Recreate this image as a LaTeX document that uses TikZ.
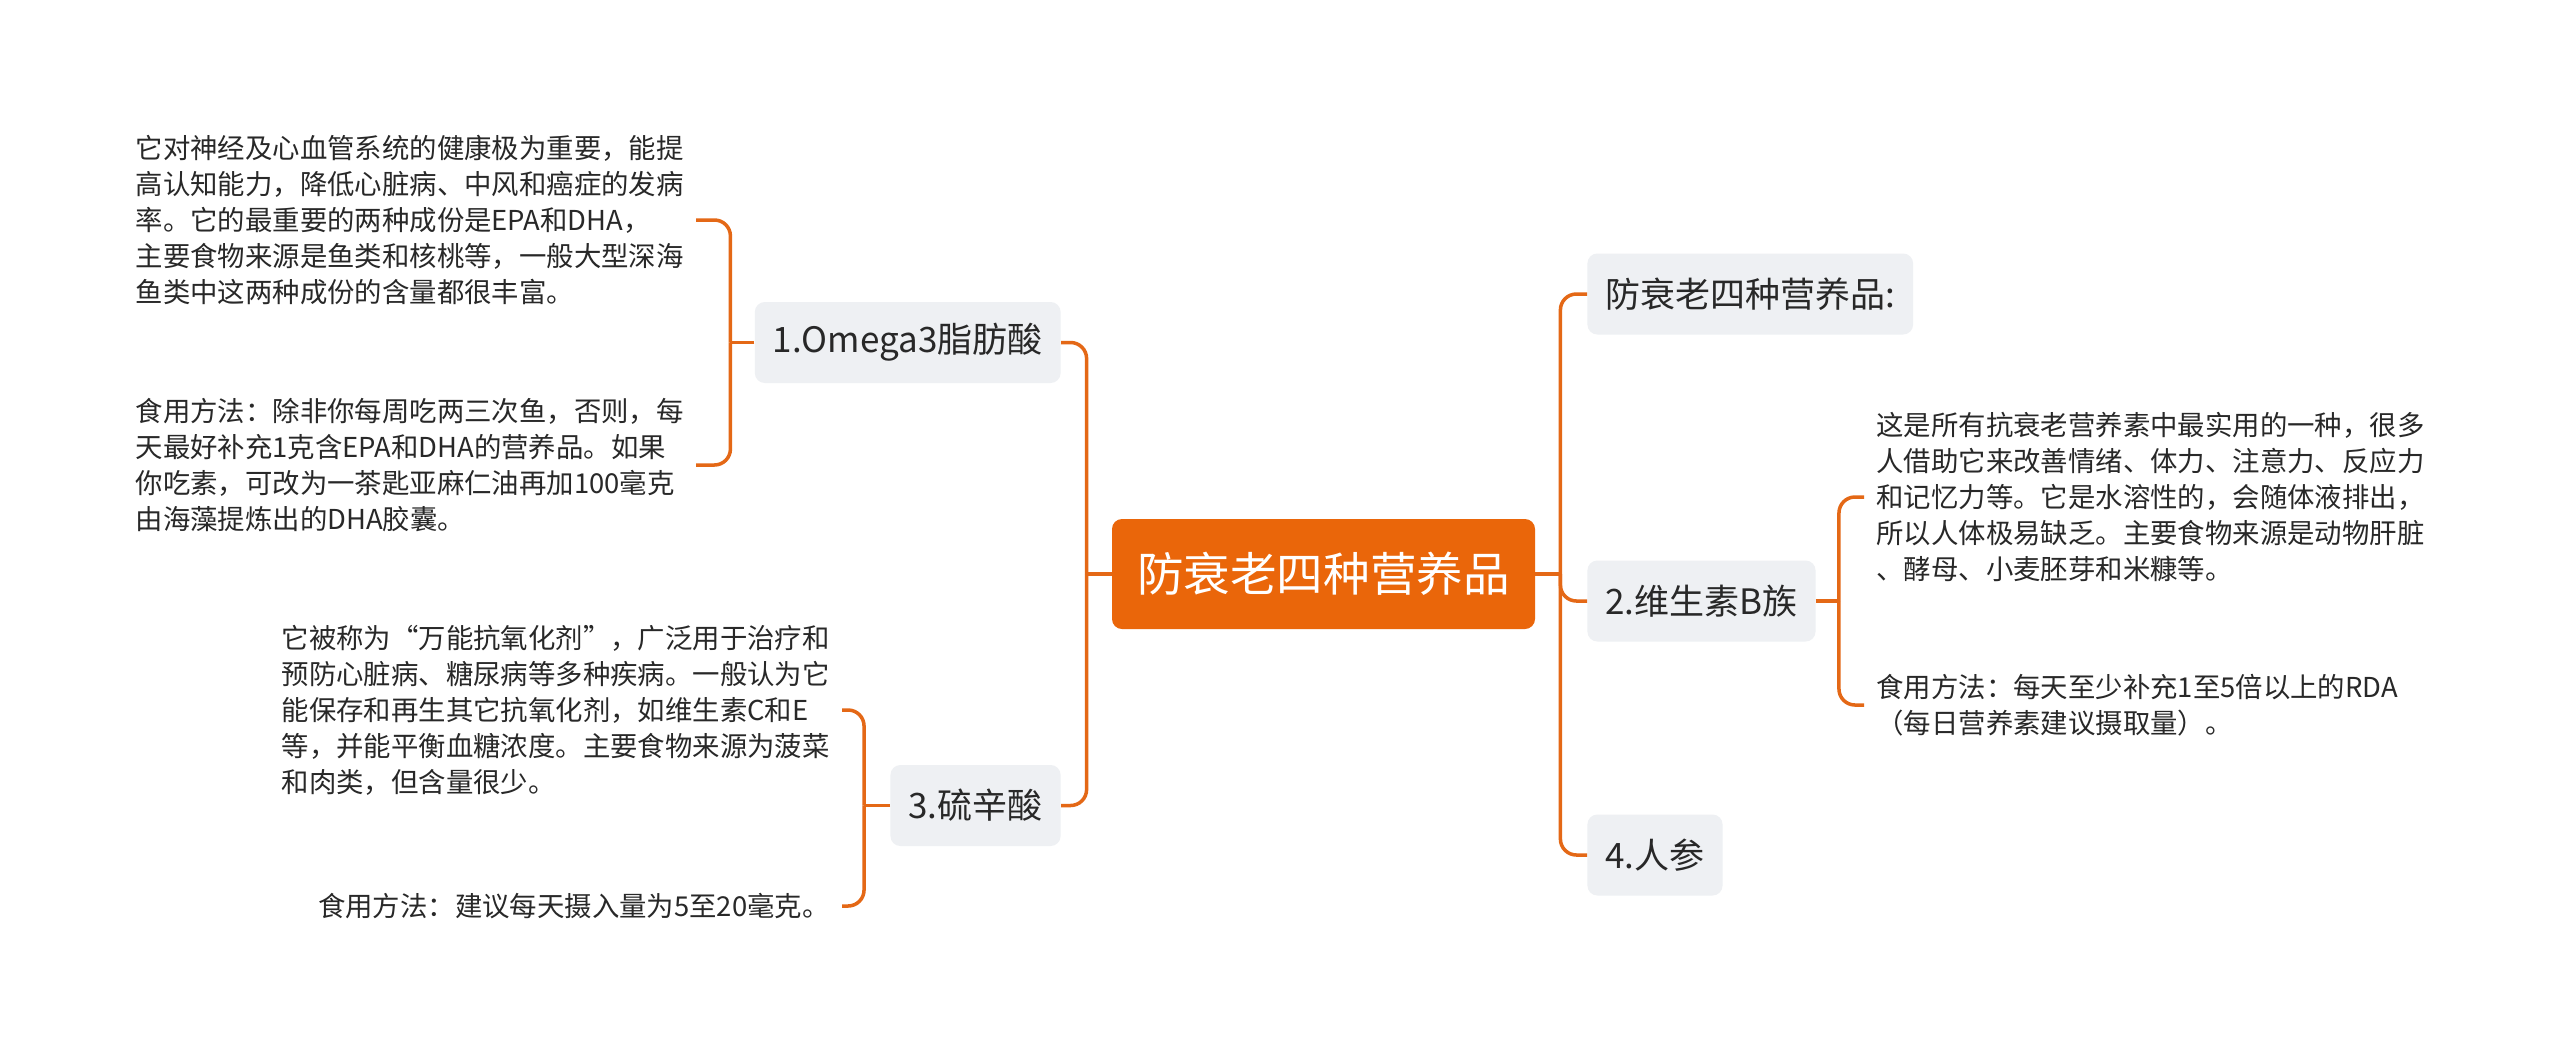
\documentclass[tikz,border=0pt]{standalone}
\usepackage{fontspec}
\setmainfont{Noto Sans CJK SC}
\usepackage{tikz}

\definecolor{branch}{RGB}{228,104,22}
\definecolor{rootfill}{RGB}{234,102,10}
\definecolor{topicfill}{RGB}{238,240,243}
\definecolor{ink}{RGB}{40,40,40}

\begin{document}
\begin{tikzpicture}[x=0.5pt,y=-0.5pt,
  root/.style={fill=rootfill,rounded corners=5pt,text=white,minimum width=211.5pt,minimum height=55pt,inner sep=0pt,font=\fontsize{23.3pt}{28pt}\selectfont},
  topic/.style={fill=topicfill,rounded corners=5pt,text=ink,minimum height=40.5pt,inner xsep=9pt,inner ysep=0pt,font=\fontsize{17.5pt}{21pt}\selectfont},
  note/.style={align=left,text=ink,inner xsep=6pt,inner ysep=2pt,font=\fontsize{13.7pt}{18pt}\selectfont},
  link/.style={draw=branch,line width=1.75pt,rounded corners=8pt}]
\fill[white] (0,0) rectangle (2560,1051);

\node[root] (root) at (1323.5,574) {防衰老四种营养品};

\node[topic,anchor=west] (tips) at (1587,294) {防衰老四种营养品:};
\node[topic,anchor=west] (vit) at (1587,601) {2.维生素B族};
\node[topic,anchor=west] (ginseng) at (1587,855) {4.人参};
\node[topic,anchor=east] (omega) at (1061,342.5) {1.Omega3脂肪酸};
\node[topic,anchor=east] (acid) at (1061,805.5) {3.硫辛酸};

\node[note,anchor=east] (omegaA) at (696,220) {它对神经及心血管系统的健康极为重要，能提\\
高认知能力，降低心脏病、中风和癌症的发病\\
率。它的最重要的两种成份是EPA和DHA，\\
主要食物来源是鱼类和核桃等，一般大型深海\\
鱼类中这两种成份的含量都很丰富。};
\node[note,anchor=east] (omegaB) at (696,465) {食用方法：除非你每周吃两三次鱼，否则，每\\
天最好补充1克含EPA和DHA的营养品。如果\\
你吃素，可改为一茶匙亚麻仁油再加100毫克\\
由海藻提炼出的DHA胶囊。};
\node[note,anchor=east] (acidA) at (842,710) {它被称为“万能抗氧化剂”，广泛用于治疗和\\
预防心脏病、糖尿病等多种疾病。一般认为它\\
能保存和再生其它抗氧化剂，如维生素C和E\\
等，并能平衡血糖浓度。主要食物来源为菠菜\\
和肉类，但含量很少。};
\node[note,anchor=east] (acidB) at (842,906) {食用方法：建议每天摄入量为5至20毫克。};
\node[note,anchor=west] (vitA) at (1864,497) {这是所有抗衰老营养素中最实用的一种，很多\\
人借助它来改善情绪、体力、注意力、反应力\\
和记忆力等。它是水溶性的，会随体液排出，\\
所以人体极易缺乏。主要食物来源是动物肝脏\\
、酵母、小麦胚芽和米糠等。};
\node[note,anchor=west] (vitB) at (1864,705) {食用方法：每天至少补充1至5倍以上的RDA\\
（每日营养素建议摄取量）。};

\coordinate (jL) at ([xshift=-12.5pt]root.west);
\coordinate (jR) at ([xshift=12.5pt]root.east);
\coordinate (jO) at ([xshift=-12pt]omega.west);
\coordinate (jA) at ([xshift=-13pt]acid.west);
\coordinate (jV) at ([xshift=11.5pt]vit.east);

\draw[link] (root.west) -- (jL);
\draw[link] (jL) |- (omega.east);
\draw[link] (jL) |- (acid.east);
\draw[link] (root.east) -- (jR);
\draw[link] (jR) |- (tips.west);
\draw[link] (jR) |- (vit.west);
\draw[link] (jR) |- (ginseng.west);

\draw[link] (omega.west) -- (jO);
\draw[link] (jO) |- (omegaA.east);
\draw[link] (jO) |- (omegaB.east);
\draw[link] (acid.west) -- (jA);
\draw[link] (jA) |- (acidA.east);
\draw[link] (jA) |- (acidB.east);
\draw[link] (vit.east) -- (jV);
\draw[link] (jV) |- (vitA.west);
\draw[link] (jV) |- (vitB.west);
\end{tikzpicture}
\end{document}
